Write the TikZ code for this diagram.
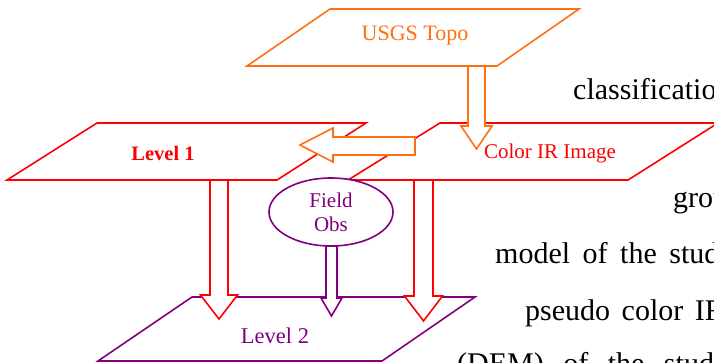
\documentclass[tikz,border=0pt]{standalone}
\usepackage{fontspec}
\setmainfont{Liberation Serif}
\usetikzlibrary{shapes.geometric}
\definecolor{cred}{RGB}{255,0,0}
\definecolor{corange}{RGB}{255,112,20}
\definecolor{cpurple}{RGB}{128,0,128}
\newcommand{\dnblock}[7]{% color, xc, ytop, stemhalf, headhalf, yhead, ytip
  \draw[blockline,draw=#1,fill=white] (#2-#4,#3) -- (#2-#4,#6) -- (#2-#5,#6) -- (#2,#7)
    -- (#2+#5,#6) -- (#2+#4,#6) -- (#2+#4,#3) -- cycle;}
\tikzset{
  blockline/.style={line width=1.6pt, line join=miter},
  plane/.style={line width=1.6pt, fill=white},
  lbl/.style={inner sep=0pt, font=\fontsize{21}{24}\selectfont},
  bodytext/.style={inner sep=0pt, anchor=base west, font=\fontsize{30}{34}\selectfont}
}
\begin{document}
\begin{tikzpicture}[x=1pt,y=-1pt]
\useasboundingbox (0,0) rectangle (714,362);
\clip (0,0) rectangle (714,362);
% background text fragments
\node[bodytext] (t1) at (573,99) {classification};
\node[bodytext] (t2) at (673,207) {ground};
\node[bodytext] (t3) at (495,263) {model\hspace{5pt} of\hspace{5pt} the\hspace{5pt} study};
\node[bodytext] (t4) at (525,320) {pseudo\hspace{4pt} color\hspace{4pt} IR};
\node[bodytext] (t5) at (457,373) {(DEM)\hspace{12pt} of\hspace{12pt} the\hspace{12pt} study};
% USGS Topo plane
\draw[plane,draw=corange] (330,9) -- (579,9) -- (497,66) -- (247,66) -- cycle;
\node[lbl,text=corange,font=\fontsize{22}{24}\selectfont] (usgs) at (415,36) {USGS Topo};
% Level 1 plane
\draw[plane,draw=cred] (97,123) -- (366,123) -- (277,180) -- (7,180) -- cycle;
\node[lbl,text=cred,font=\fontsize{20.5}{24}\selectfont\bfseries] (lev1) at (163,153) {Level 1};
% Color IR plane
\draw[plane,draw=cred] (440,123) -- (718,123) -- (628,180) -- (348,180) -- cycle;
\node[lbl,text=cred] (cir) at (550,153) {Color IR Image};
% Level 2 plane
\draw[plane,draw=cpurple] (192,297) -- (475,297) -- (382,361) -- (98,361) -- cycle;
\node[lbl,text=cpurple,font=\fontsize{22.5}{24}\selectfont] (lev2) at (275,336) {Level 2};
% Field Obs
\node[draw=cpurple,line width=1.6pt,fill=white,ellipse,minimum width=124pt,minimum height=68pt,
      inner sep=0pt,text=cpurple,align=center,font=\fontsize{21}{24}\selectfont] (field) at (331,212) {Field\\Obs};
% block arrows
\dnblock{corange}{476.5}{66}{8.5}{15.5}{126}{149}
\draw[blockline,draw=corange,fill=white] (415,137) -- (333,137) -- (333,128) -- (300,145) -- (333,162)
  -- (333,155) -- (415,155) -- cycle;
\dnblock{cred}{219}{180}{9}{18.5}{295}{319}
\dnblock{cred}{423.5}{180}{9.5}{19}{296}{321}
\dnblock{cpurple}{331.5}{246}{5.5}{10.5}{298}{316}
\end{tikzpicture}
\end{document}
